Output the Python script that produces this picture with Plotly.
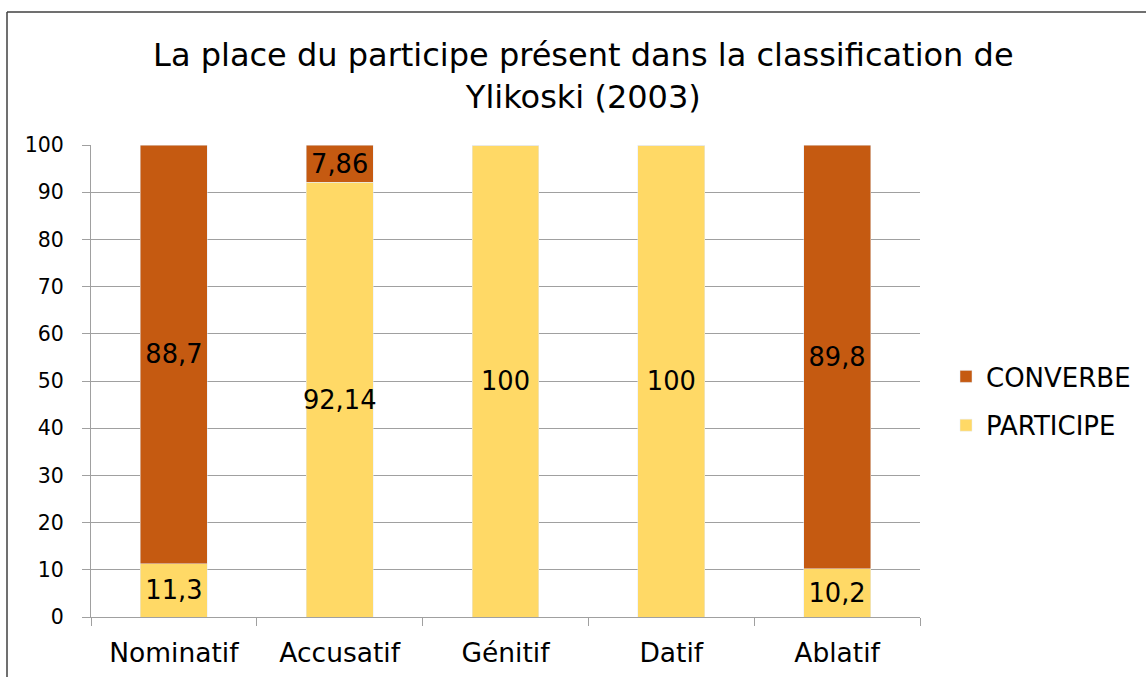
import plotly.graph_objects as go

categories = ["Nominatif", "Accusatif", "Génitif", "Datif", "Ablatif"]
participe = [11.3, 92.14, 100, 100, 10.2]
converbe = [88.7, 7.86, 0, 0, 89.8]
title_text = "La place du participe présent dans la classification de<br>Ylikoski (2003)"

FONT = "DejaVu Sans"


def labels(vals):
    return [("" if v == 0 else (str(int(v)) if float(v).is_integer() else str(v)).replace(".", ",")) for v in vals]


fig = go.Figure()
fig.add_trace(go.Bar(
    x=categories, y=participe, name="PARTICIPE", marker_color="#FFD966",
    legendgroup="p", legendrank=2,
    text=labels(participe), textposition="inside", insidetextanchor="middle",
    textangle=0, constraintext="none",
    textfont=dict(family=FONT, size=25.7, color="black"),
))
fig.add_trace(go.Bar(
    x=categories, y=converbe, name="CONVERBE", marker_color="#C55A11",
    legendgroup="c", legendrank=1,
    text=labels(converbe), textposition="inside", insidetextanchor="middle",
    textangle=0, constraintext="none",
    textfont=dict(family=FONT, size=25.7, color="black"),
))

L, R, T, B = 91, 226, 145, 60
W, H = 1146, 677
pw, ph = W - L - R, H - T - B


def px_x(p):
    return (p - L) / pw


def px_y(p):
    return (H - B - p) / ph


fig.update_layout(
    width=W, height=H,
    barmode="stack", bargap=0.596,
    paper_bgcolor="white", plot_bgcolor="white",
    margin=dict(l=L, r=R, t=T, b=B, autoexpand=False),
    font=dict(family=FONT, color="black"),
    title=dict(text=title_text, x=0.509, xanchor="center", xref="container",
               y=0.902, yanchor="top", yref="container",
               font=dict(family=FONT, size=32, color="black")),
    legend=dict(x=px_x(946), xanchor="left", y=px_y(401), yanchor="middle",
                traceorder="grouped",
                font=dict(family=FONT, size=26, color="black"),
                itemwidth=30, tracegroupgap=12, bgcolor="rgba(0,0,0,0)"),
    xaxis=dict(showline=True, linecolor="#A0A0A0", linewidth=1, automargin=False,
               ticks="outside", tickson="boundaries", ticklen=8, tickcolor="#A0A0A0",
               tickfont=dict(family=FONT, size=26.5, color="black"),
               ticklabelstandoff=12, showgrid=False),
    yaxis=dict(range=[0, 100], dtick=10, showline=True, linecolor="#A0A0A0", linewidth=1,
               automargin=False,
               ticks="outside", ticklen=8, tickcolor="#A0A0A0",
               showgrid=True, gridcolor="#A0A0A0", gridwidth=1,
               tickfont=dict(family=FONT, size=20.5, color="black"),
               ticklabelstandoff=14, zeroline=False),
    shapes=[
        dict(type="line", xref="paper", yref="paper", x0=px_x(7), x1=px_x(7),
             y0=px_y(12), y1=px_y(720), line=dict(color="#404040", width=1.5)),
        dict(type="line", xref="paper", yref="paper", x0=px_x(7), x1=px_x(1200),
             y0=px_y(12), y1=px_y(12), line=dict(color="#404040", width=1.5)),
    ],
)

fig.write_html("out.html", config={"displayModeBar": False},
               post_script="document.body.style.margin='0';document.body.style.overflow='hidden';")
